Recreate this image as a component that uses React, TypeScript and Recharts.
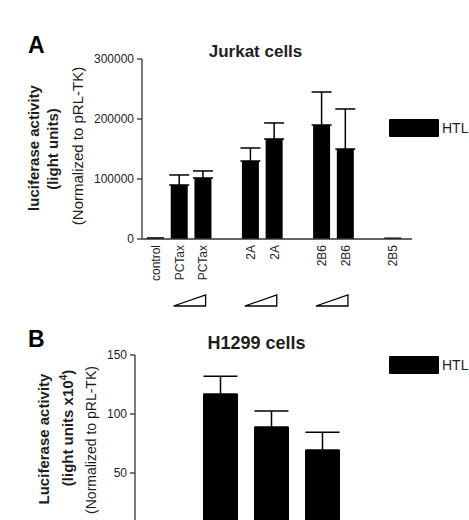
import { Bar, BarChart, ErrorBar, Legend, XAxis, YAxis } from 'recharts'

// panel A: Jurkat cells
const categoriesA = ['control', 'PCTax', 'PCTax', '', '2A', '2A', '', '2B6', '2B6', '', '2B5']
const valuesA = [3000, 90000, 101700, null, 130000, 166700, null, 190000, 150000, null, 2500]
const errorsA = [null, 16700, 11700, null, 21700, 26700, null, 55000, 66700, null, null]
const ticksA = [0, 100000, 200000, 300000]
// first bar of each increasing-dose pair
const rampStartsA = [1, 4, 7]

// panel B: H1299 cells (the 0 tick falls below the visible area)
const categoriesB = ['1', '2', '3']
const valuesB = [117, 89, 69.5]
const errorsB = [15, 13.5, 15]
const ticksB = [50, 100, 150]

const seriesName = 'HTL'

const dataA = categoriesA.map((name, i) => ({
  name,
  value: valuesA[i],
  err: errorsA[i] == null ? null : [0, errorsA[i]],
}))

const dataB = categoriesB.map((name, i) => ({
  name,
  value: valuesB[i],
  err: [0, errorsB[i]],
}))

const FONT = '"Liberation Sans", Arial, Helvetica, sans-serif'
const INK = '#1e1e1e'
const AXIS = '#333'

function RampTick(props: any) {
  const { x, y, payload, index } = props
  const tx = x + 4
  return (
    <g>
      <text
        x={tx}
        y={y}
        transform={`rotate(-90, ${tx}, ${y})`}
        textAnchor="end"
        fontSize={12}
        fontFamily={FONT}
        fill={INK}
      >
        {payload.value}
      </text>
      {rampStartsA.includes(index) && (
        <polygon
          points={`${x - 6},${y + 61} ${x + 26},${y + 61} ${x + 26},${y + 50}`}
          fill="none"
          stroke="#000"
          strokeWidth={1.3}
        />
      )}
    </g>
  )
}

function LegendBox({ payload }: any) {
  return (
    <div style={{ position: 'relative', width: 80, height: 18 }}>
      {(payload || []).map((p: any) => (
        <div key={p.value}>
          <div
            style={{
              position: 'absolute',
              left: 0,
              top: 0,
              width: 50,
              height: 18,
              background: p.color,
              borderRadius: 1,
            }}
          />
          <span
            style={{
              position: 'absolute',
              left: 53,
              top: 0,
              lineHeight: '18px',
              fontSize: 14,
              fontFamily: FONT,
              color: INK,
              whiteSpace: 'nowrap',
            }}
          >
            {p.value}
          </span>
        </div>
      ))}
    </div>
  )
}

const tickStyle = { fill: INK, fontSize: 12, fontFamily: FONT }

function VLabel({ x, y, size, bold, children }: any) {
  return (
    <text
      x={x}
      y={y}
      transform={`rotate(-90, ${x}, ${y})`}
      textAnchor="middle"
      fontSize={size}
      fontWeight={bold ? 700 : 400}
      fontFamily={FONT}
      fill={INK}
    >
      {children}
    </text>
  )
}

export default function App() {
  return (
    <div
      style={{
        position: 'fixed',
        left: 0,
        top: 0,
        width: 469,
        height: 520,
        overflow: 'hidden',
        background: '#fff',
        fontFamily: FONT,
      }}
    >
      <div style={{ position: 'absolute', left: 0, top: 0 }}>
        <BarChart width={469} height={310} data={dataA} margin={{ top: 59, right: 57, left: 0, bottom: 0 }}>
          <XAxis
            dataKey="name"
            interval={0}
            height={71}
            tickSize={0}
            tickMargin={6}
            tickLine={false}
            axisLine={{ stroke: AXIS, strokeWidth: 1.3 }}
            padding={{ left: 2, right: 7 }}
            tick={<RampTick />}
          />
          <YAxis
            width={142}
            domain={[0, 300000]}
            ticks={ticksA}
            interval={0}
            tickSize={5}
            tickMargin={3}
            tick={tickStyle}
            tickLine={{ stroke: AXIS, strokeWidth: 1.3 }}
            axisLine={{ stroke: AXIS, strokeWidth: 1.3 }}
          />
          <Legend
            layout="horizontal"
            align="center"
            verticalAlign="middle"
            content={<LegendBox />}
            wrapperStyle={{ position: 'absolute', left: 389, top: 119, width: 80, height: 18 }}
          />
          <Bar dataKey="value" name={seriesName} fill="#000" barSize={17} isAnimationActive={false}>
            <ErrorBar dataKey="err" direction="y" width={10} stroke="#000" strokeWidth={1.5} />
          </Bar>
        </BarChart>
      </div>

      <div style={{ position: 'absolute', left: 0, top: 300 }}>
        <BarChart width={469} height={260} data={dataB} margin={{ top: 55, right: 57, left: 0, bottom: 0 }}>
          <XAxis
            dataKey="name"
            height={28}
            tick={false}
            tickLine={false}
            axisLine={{ stroke: AXIS, strokeWidth: 1.3 }}
            padding={{ left: 60, right: 64 }}
          />
          <YAxis
            width={135}
            domain={[0, 150]}
            ticks={ticksB}
            interval={0}
            tickSize={5}
            tickMargin={3}
            tick={tickStyle}
            tickLine={{ stroke: AXIS, strokeWidth: 1.3 }}
            axisLine={{ stroke: AXIS, strokeWidth: 1.3 }}
          />
          <Legend
            layout="horizontal"
            align="center"
            verticalAlign="middle"
            content={<LegendBox />}
            wrapperStyle={{ position: 'absolute', left: 389, top: 56, width: 80, height: 18 }}
          />
          <Bar dataKey="value" name={seriesName} fill="#000" barSize={35} isAnimationActive={false}>
            <ErrorBar dataKey="err" direction="y" width={17} stroke="#000" strokeWidth={1.5} />
          </Bar>
        </BarChart>
      </div>

      <svg
        width={469}
        height={520}
        style={{ position: 'absolute', left: 0, top: 0, pointerEvents: 'none' }}
      >
        <text x={28} y={53} fontSize={23} fontWeight={700} fontFamily={FONT} fill="#000">
          A
        </text>
        <text x={255.5} y={57} textAnchor="middle" fontSize={17} fontWeight={700} fontFamily={FONT} fill={INK}>
          Jurkat cells
        </text>
        <VLabel x={39} y={148} size={15} bold>
          luciferase activity
        </VLabel>
        <VLabel x={58} y={149} size={15} bold>
          (light units)
        </VLabel>
        <VLabel x={83} y={146} size={15}>
          (Normalized to pRL-TK)
        </VLabel>

        <text x={28} y={347} fontSize={23} fontWeight={700} fontFamily={FONT} fill="#000">
          B
        </text>
        <text x={256.5} y={349} textAnchor="middle" fontSize={18} fontWeight={700} fontFamily={FONT} fill={INK}>
          H1299 cells
        </text>
        <VLabel x={49} y={439} size={15} bold>
          Luciferase activity
        </VLabel>
        <VLabel x={73} y={428} size={15} bold>
          (light units x10
          <tspan dy={-6} fontSize={10}>
            4
          </tspan>
          <tspan dy={6}>)</tspan>
        </VLabel>
        <VLabel x={96} y={440} size={14}>
          (Normalized to pRL-TK)
        </VLabel>
      </svg>
    </div>
  )
}
